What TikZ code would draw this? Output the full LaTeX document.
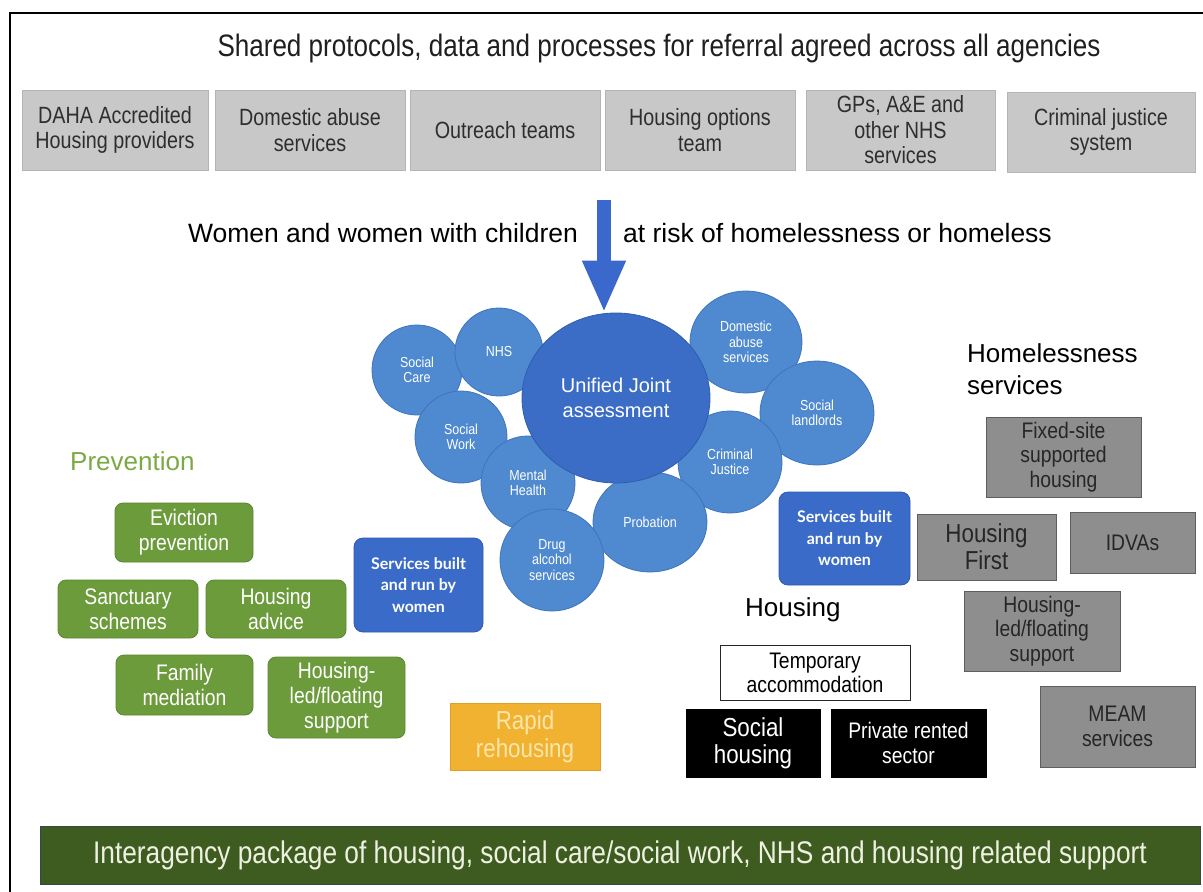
\documentclass[tikz,border=0pt]{standalone}
\usepackage{fontspec}
\setmainfont{Liberation Sans}
\newfontfamily\condfont{Liberation Sans}[FakeStretch=0.86]
\newfontfamily\narrowfont{Liberation Sans}[FakeStretch=0.84]
\newfontfamily\latofont{Lato}
\usetikzlibrary{arrows.meta,shapes.geometric}
\definecolor{topgray}{HTML}{C8C8C8}
\definecolor{topgrayline}{HTML}{B4B4B4}
\definecolor{bubblefill}{HTML}{4F89D0}
\definecolor{bubbleline}{HTML}{3F74BC}
\definecolor{bigfill}{HTML}{3B6DC6}
\definecolor{bigline}{HTML}{2F5DAE}
\definecolor{womenfill}{HTML}{3A6BC8}
\definecolor{womenline}{HTML}{2E5AAE}
\definecolor{greenfill}{HTML}{6B9B3B}
\definecolor{greenline}{HTML}{5A872F}
\definecolor{prevgreen}{HTML}{7BAA45}
\definecolor{rapidfill}{HTML}{F1B232}
\definecolor{rapidline}{HTML}{E0A028}
\definecolor{rapidtext}{HTML}{FCE6AA}
\definecolor{hsgray}{HTML}{8E8E8E}
\definecolor{hsline}{HTML}{5E5E5E}
\definecolor{barfill}{HTML}{3E5B20}
\definecolor{bartext}{HTML}{EEF1E2}
\definecolor{arrowblue}{HTML}{3B68CC}
\begin{document}
\begin{tikzpicture}[x=1pt,y=-1pt,
  topbox/.style={fill=topgray,draw=topgrayline,line width=0.8pt,minimum height=80pt,inner sep=0pt,align=center,
    text=black!82,font=\narrowfont\fontsize{23.5}{25.5}\selectfont},
  bubble/.style={ellipse,fill=bubblefill,draw=bubbleline,line width=0.8pt,inner sep=0pt,align=center,
    text=white,font=\condfont\fontsize{14.5}{15.5}\selectfont},
  womenbox/.style={fill=womenfill,draw=womenline,line width=0.8pt,rounded corners=9pt,inner sep=0pt,align=center,
    text=white,font=\latofont\bfseries\fontsize{16}{21.5}\selectfont},
  greenbox/.style={fill=greenfill,draw=greenline,line width=0.8pt,rounded corners=8pt,inner sep=0pt,align=center,
    text=white,font=\condfont\fontsize{22.5}{25}\selectfont},
  hsbox/.style={fill=hsgray,draw=hsline,line width=0.8pt,inner sep=0pt,align=center,
    text=black!85,font=\condfont\fontsize{22.5}{24.5}\selectfont},
  blackbox/.style={fill=black,draw=black,inner sep=0pt,align=center,text=white,font=\condfont\fontsize{22.5}{25}\selectfont},
  heading/.style={inner sep=0pt,align=left,font=\fontsize{26}{32}\selectfont}
]
\useasboundingbox (0,0) rectangle (1203,892);
\fill[white] (0,0) rectangle (1203,892);
\draw[line width=2pt] (10,892) -- (10,12.5) -- (1203,12.5);

% title
\node[inner sep=0pt,font=\narrowfont\fontsize{31}{34}\selectfont,text=black!88] (title) at (659,48.5) {Shared protocols, data and processes for referral agreed across all agencies};

% top agency boxes
\node[topbox,minimum width=186pt] (daha) at (115,130) {DAHA Accredited\\Housing providers};
\node[topbox,minimum width=190pt] (das) at (310,130) {Domestic abuse\\services};
\node[topbox,minimum width=190pt] (out) at (505,130) {Outreach teams};
\node[topbox,minimum width=190pt] (hot) at (700,130) {Housing options\\team};
\node[topbox,minimum width=189pt] (gps) at (900.5,130) {GPs, A\&E and\\other NHS\\services};
\node[topbox,minimum width=188pt] (cjs) at (1101,132) {Criminal justice\\system};

% women line
\node[inner sep=0pt,font=\fontsize{26.5}{30}\selectfont] (women) at (383,233) {Women and women with children};
\node[inner sep=0pt,font=\fontsize{26.5}{30}\selectfont] (risk) at (837.5,233) {at risk of homelessness or homeless};

% bubbles
\node[bubble,minimum width=90pt,minimum height=90pt] (scare) at (417,370) {Social\\Care};
\node[bubble,minimum width=88pt,minimum height=88pt] (nhs) at (499,352) {NHS};
\node[bubble,minimum width=92pt,minimum height=92pt] (swork) at (461,437) {Social\\Work};
\node[bubble,minimum width=112pt,minimum height=102pt] (dom) at (746,342) {Domestic\\abuse\\services};
\node[bubble,minimum width=114pt,minimum height=104pt] (land) at (817,413) {Social\\landlords};
\node[bubble,minimum width=104pt,minimum height=102pt] (crim) at (730,462) {Criminal\\Justice};
\node[bubble,minimum width=114pt,minimum height=100pt] (prob) at (650,522) {Probation};
\node[bubble,minimum width=94pt,minimum height=94pt] (mental) at (528,483) {Mental\\Health};
\node[bubble,minimum width=104pt,minimum height=102pt] (drug) at (552,560) {Drug\\alcohol\\services};
\node[ellipse,fill=bigfill,draw=bigline,line width=0.8pt,minimum width=188pt,minimum height=170pt,inner sep=0pt,align=center,
  text=white,font=\fontsize{20}{24.5}\selectfont] (uja) at (616,398) {Unified Joint\\assessment};

% arrow
\coordinate (arrowtop) at (604,200);
\draw[arrowblue,line width=14pt,-{Triangle[width=40pt,length=52pt]}] (arrowtop) -- (arrowtop |- uja.north);

% services built and run by women
\node[womenbox,minimum width=129pt,minimum height=94pt] (womenL) at (418.5,585) {Services built\\and run by\\women};
\node[womenbox,minimum width=131pt,minimum height=93pt] (womenR) at (844.5,538.5) {Services built\\and run by\\women};

% prevention
\node[heading,anchor=west,text=prevgreen] (prev) at (70,461) {Prevention};
\node[greenbox,minimum width=138pt,minimum height=59pt] (evict) at (184,532.5) {Eviction\\prevention};
\node[greenbox,minimum width=140pt,minimum height=58pt] (sanct) at (128,609) {Sanctuary\\schemes};
\node[greenbox,minimum width=140pt,minimum height=58pt] (hadv) at (276,609) {Housing\\advice};
\node[greenbox,minimum width=137pt,minimum height=60pt] (family) at (184.5,685) {Family\\mediation};
\node[greenbox,minimum width=137pt,minimum height=81pt] (hledG) at (336.5,697.5) {Housing-\\led/floating\\support};

% rapid rehousing
\node[fill=rapidfill,draw=rapidline,line width=0.8pt,minimum width=150pt,minimum height=67pt,inner sep=0pt,align=center,
  text=rapidtext,font=\condfont\fontsize{26}{28}\selectfont] (rapid) at (525,736.5) {Rapid\\rehousing};

% homelessness services
\node[heading,anchor=west] (hserv) at (967,369) {Homelessness\\services};
\node[hsbox,minimum width=155pt,minimum height=80pt] (fixed) at (1063.5,457) {Fixed-site\\supported\\housing};
\node[hsbox,minimum width=139pt,minimum height=66pt,font=\condfont\fontsize{26}{27}\selectfont] (hfirst) at (986.5,547) {Housing\\First};
\node[hsbox,minimum width=125pt,minimum height=61pt] (idva) at (1132.5,542.5) {IDVAs};
\node[hsbox,minimum width=156pt,minimum height=80pt] (hledH) at (1042,631) {Housing-\\led/floating\\support};
\node[hsbox,minimum width=155pt,minimum height=81pt] (meam) at (1117.5,726.5) {MEAM\\services};

% housing
\node[heading,anchor=west] (housing) at (745,610) {Housing};
\node[draw=black!85,line width=1pt,fill=white,minimum width=190pt,minimum height=55pt,inner sep=0pt,align=center,
  font=\condfont\fontsize{22.5}{24}\selectfont] (temp) at (815,672.5) {Temporary\\accommodation};
\node[blackbox,minimum width=134pt,minimum height=68pt,font=\condfont\fontsize{26}{27}\selectfont] (social) at (753,743) {Social\\housing};
\node[blackbox,minimum width=155pt,minimum height=68pt] (private) at (908.5,743) {Private rented\\sector};

% bottom bar
\node[fill=barfill,draw=barfill!80!blue,line width=0.8pt,minimum width=1160pt,minimum height=58pt,inner sep=0pt,
  text=bartext,font=\narrowfont\fontsize{31.3}{34}\selectfont] (bar) at (620,855) {Interagency package of housing, social care/social work, NHS and housing related support};
\end{tikzpicture}
\end{document}
